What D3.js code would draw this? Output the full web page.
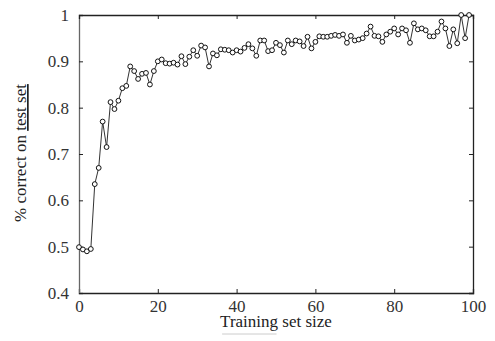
<!DOCTYPE html>
<html>
<head>
<meta charset="utf-8">
<script src="https://cdn.jsdelivr.net/npm/d3@7"></script>
<style>
  body { margin: 0; background: #fff; }
  svg { display: block; }
  svg text { font-family: "Liberation Serif", "Times New Roman", "DejaVu Serif", serif; }
</style>
</head>
<body>
<script>
// training set sizes 0..99, accuracy
const sizes = d3.range(0, 100);
const accuracy = [
	0.499, 0.494, 0.490, 0.495, 0.635, 0.670, 0.770, 0.715, 0.812, 0.797,
	0.815, 0.842, 0.847, 0.889, 0.879, 0.862, 0.873, 0.875, 0.850, 0.879,
	0.900, 0.904, 0.896, 0.895, 0.897, 0.893, 0.911, 0.894, 0.910, 0.924,
	0.912, 0.934, 0.930, 0.889, 0.917, 0.913, 0.926, 0.925, 0.924, 0.919,
	0.924, 0.921, 0.929, 0.937, 0.928, 0.912, 0.945, 0.945, 0.922, 0.924,
	0.940, 0.935, 0.919, 0.945, 0.937, 0.945, 0.943, 0.933, 0.953, 0.928,
	0.942, 0.954, 0.953, 0.953, 0.955, 0.957, 0.955, 0.958, 0.940, 0.955,
	0.945, 0.947, 0.950, 0.960, 0.975, 0.955, 0.954, 0.942, 0.958, 0.964,
	0.971, 0.958, 0.971, 0.967, 0.940, 0.982, 0.969, 0.971, 0.967, 0.954,
	0.954, 0.964, 0.986, 0.971, 0.933, 0.969, 0.939, 1.000, 0.950, 1.000
];
const xTicks = [0, 20, 40, 60, 80, 100];
const yTicks = [0.4, 0.5, 0.6, 0.7, 0.8, 0.9, 1];

const width = 495;
const height = 341;
const margin = { top: 15, right: 22, bottom: 48, left: 79 };
const plotW = width - margin.left - margin.right;
const plotH = height - margin.top - margin.bottom;
const fontFamily = '"Liberation Serif", "Times New Roman", serif';

const svg = d3.select('body')
	.append('svg')
	.attr('xmlns', 'http://www.w3.org/2000/svg')
	.attr('width', width)
	.attr('height', height)
	.attr('font-family', fontFamily);

const g = svg.append('g')
	.attr('transform', 'translate(' + margin.left + ',' + margin.top + ')');

const xScale = d3.scaleLinear().domain([0, 100]).range([0, plotW]);
const yScale = d3.scaleLinear().domain([0.4, 1]).range([plotH, 0]);

const tickLen = 4;
const labelSize = 17;

// bottom axis with labels, ticks pointing inward
const xAxis = d3.axisBottom(xScale).tickValues(xTicks).tickSize(-tickLen).tickPadding(7)
	.tickFormat(d3.format('d'));
const yAxis = d3.axisLeft(yScale).tickValues(yTicks).tickSize(-tickLen).tickPadding(10)
	.tickFormat((d) => (d === 1 ? '1' : d3.format('.1f')(d)));
// top and right: ticks only
const xAxisTop = d3.axisTop(xScale).tickValues(xTicks).tickSize(-tickLen).tickFormat(() => '');
const yAxisRight = d3.axisRight(yScale).tickValues(yTicks).tickSize(-tickLen).tickFormat(() => '');

const axes = [
	g.append('g').attr('transform', 'translate(0,' + plotH + ')').call(xAxis),
	g.append('g').call(yAxis),
	g.append('g').call(xAxisTop),
	g.append('g').attr('transform', 'translate(' + plotW + ',0)').call(yAxisRight)
];
axes.forEach((a) => {
	a.attr('font-family', fontFamily).attr('font-size', labelSize);
	a.select('.domain').attr('stroke', '#222').attr('stroke-width', 1.3);
	a.selectAll('.tick line').attr('stroke', '#222');
	a.selectAll('.tick text').attr('fill', '#333');
});
axes[1].select('.domain').attr('stroke', '#666');

// curve
const line = d3.line()
	.x((d, i) => xScale(sizes[i]))
	.y((d) => yScale(d));

g.append('path')
	.datum(accuracy)
	.attr('fill', 'none')
	.attr('stroke', '#333')
	.attr('stroke-width', 1)
	.attr('d', line);

g.append('g')
	.selectAll('circle')
	.data(accuracy)
	.enter()
	.append('circle')
	.attr('cx', (d, i) => xScale(sizes[i]))
	.attr('cy', (d) => yScale(d))
	.attr('r', 2.4)
	.attr('fill', '#fff')
	.attr('stroke', '#111')
	.attr('stroke-width', 1);

// axis titles
const xTitle = svg.append('text')
	.attr('x', margin.left + plotW / 2)
	.attr('y', 327)
	.attr('text-anchor', 'middle')
	.attr('fill', '#222')
	.attr('font-size', 17);
const trainingSpan = xTitle.append('tspan').text('Training');
xTitle.append('tspan').text(' set size');

const yTitle = svg.append('text')
	.attr('transform', 'translate(26,153) rotate(-90)')
	.attr('text-anchor', 'middle')
	.attr('fill', '#222')
	.attr('font-size', 17);
yTitle.append('tspan').text('% correct on ');
yTitle.append('tspan').attr('text-decoration', 'underline').text('test set');

// faint underline under "Training"
const bb = trainingSpan.node().getBBox();
svg.append('line')
	.attr('x1', bb.x + 2)
	.attr('x2', bb.x + bb.width - 2)
	.attr('y1', 334)
	.attr('y2', 334)
	.attr('stroke', '#ccc')
	.attr('stroke-width', 1);
</script>
</body>
</html>
